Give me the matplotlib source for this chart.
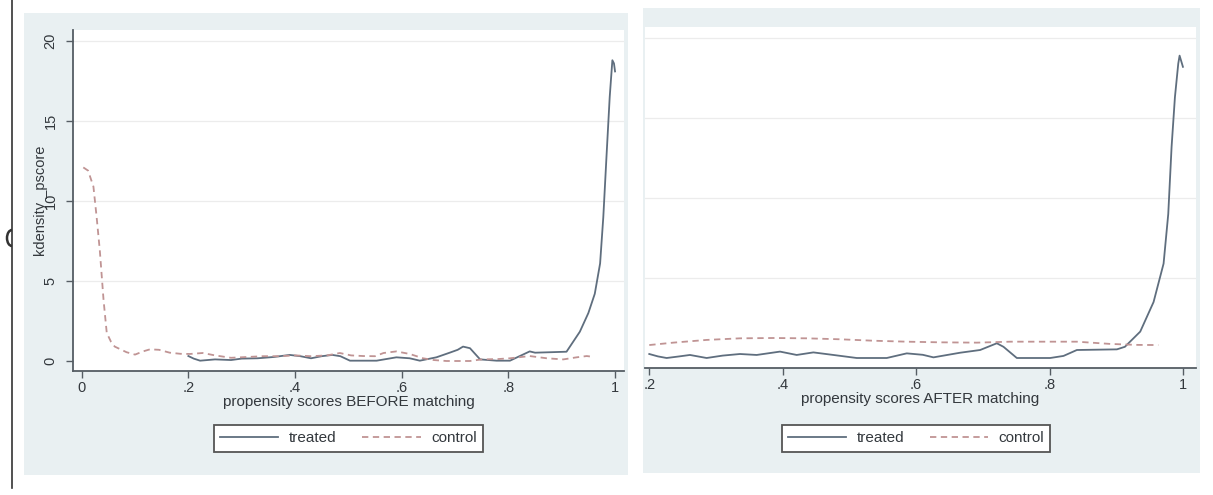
import matplotlib
matplotlib.use("Agg")
import matplotlib.pyplot as plt
from matplotlib.patches import Rectangle, Arc
from matplotlib.lines import Line2D

plt.rcParams['font.family'] = ['Liberation Sans', 'DejaVu Sans']

# ---------------- data ----------------
before_treated_x = [0.2, 0.21, 0.222, 0.25, 0.28, 0.3, 0.33, 0.36, 0.39, 0.41, 0.43, 0.45, 0.47, 0.485,
                    0.503, 0.553, 0.59, 0.615, 0.634, 0.665, 0.69, 0.705, 0.715, 0.728, 0.747, 0.778,
                    0.803, 0.84, 0.85, 0.88, 0.909, 0.934, 0.95, 0.962, 0.972, 0.978, 0.984, 0.99,
                    0.995, 0.998, 1.0]
before_treated_y = [0.31, 0.15, 0.02, 0.1, 0.06, 0.15, 0.17, 0.25, 0.38, 0.3, 0.17, 0.3, 0.38, 0.3,
                    0.02, 0.02, 0.23, 0.17, 0.02, 0.23, 0.52, 0.7, 0.9, 0.8, 0.1, 0.02,
                    0.02, 0.6, 0.52, 0.55, 0.58, 1.83, 3.0, 4.2, 6.1, 9.0, 12.8, 16.5,
                    18.8, 18.6, 18.1]

before_control_x = [0.003, 0.012, 0.022, 0.028, 0.034, 0.041, 0.047, 0.055, 0.062, 0.084, 0.1, 0.115,
                    0.128, 0.145, 0.165, 0.185, 0.203, 0.227, 0.25, 0.28, 0.31, 0.34, 0.37, 0.4, 0.43,
                    0.46, 0.484, 0.505, 0.528, 0.55, 0.566, 0.59, 0.615, 0.64, 0.66, 0.684, 0.728,
                    0.75, 0.78, 0.803, 0.84, 0.872, 0.903, 0.928, 0.947, 0.956]
before_control_y = [12.1, 11.9, 10.9, 9.0, 6.9, 3.8, 1.75, 1.2, 0.9, 0.55, 0.4, 0.6,
                    0.73, 0.7, 0.52, 0.45, 0.44, 0.5, 0.35, 0.2, 0.25, 0.3, 0.3, 0.35, 0.3,
                    0.35, 0.5, 0.35, 0.31, 0.3, 0.5, 0.6, 0.44, 0.17, 0.06, 0.0, 0.0,
                    0.1, 0.12, 0.17, 0.31, 0.17, 0.1, 0.23, 0.31, 0.27]

after_treated_x = [0.2, 0.213, 0.226, 0.245, 0.261, 0.286, 0.31, 0.336, 0.361, 0.396, 0.421, 0.446,
                   0.476, 0.511, 0.556, 0.586, 0.61, 0.626, 0.666, 0.696, 0.721, 0.731, 0.751, 0.801,
                   0.821, 0.841, 0.901, 0.913, 0.936, 0.956, 0.971, 0.978, 0.983, 0.988, 0.993,
                   0.995, 1.0]
after_treated_y = [0.25, 0.1, 0.0, 0.1, 0.19, 0.0, 0.15, 0.25, 0.19, 0.4, 0.19, 0.35,
                   0.19, 0.0, 0.0, 0.29, 0.2, 0.04, 0.33, 0.5, 0.92, 0.7, 0.0, 0.0,
                   0.13, 0.5, 0.54, 0.7, 1.65, 3.5, 5.9, 9.0, 13.2, 16.3, 18.4,
                   18.9, 18.2]

after_control_x = [0.2, 0.236, 0.286, 0.336, 0.386, 0.436, 0.486, 0.536, 0.586, 0.636, 0.691, 0.741,
                   0.791, 0.841, 0.891, 0.93, 0.963]
after_control_y = [0.81, 0.96, 1.13, 1.23, 1.25, 1.23, 1.17, 1.08, 1.02, 0.98, 0.96, 1.02,
                   1.02, 1.02, 0.88, 0.82, 0.81]

series_labels = ["treated", "control"]
before_xticks = [0, 0.2, 0.4, 0.6, 0.8, 1.0]
before_xticklabels = ["0", ".2", ".4", ".6", ".8", "1"]
after_xticks = [0.2, 0.4, 0.6, 0.8, 1.0]
after_xticklabels = [".2", ".4", ".6", ".8", "1"]
yticks = [0, 5, 10, 15, 20]
yticklabels = ["0", "5", "10", "15", "20"]
before_xlabel = "propensity scores BEFORE matching"
after_xlabel = "propensity scores AFTER matching"
ylabel = "kdensity _pscore"

# ---------------- style ----------------
W, H = 1213, 495
PANEL = "#e9f0f2"
TREATED = "#5f6e7e"
CONTROL = "#c09494"
AXIS = "#555d64"
GRID = "#ececec"
TEXT = "#33383d"
FS = 11
TFS = 10.5

fig = plt.figure(figsize=(W / 100, H / 100), dpi=100)
fig.patch.set_facecolor("white")


def px_rect(x0, y0, x1, y1):
    return [x0 / W, 1 - y1 / H, (x1 - x0) / W, (y1 - y0) / H]


# gray graph regions (drawn behind the axes)
for (x0, y0, x1, y1) in [(24, 13, 628, 475), (643, 8, 1200, 473)]:
    l, b, w, h = px_rect(x0, y0, x1, y1)
    fig.patches.append(Rectangle((l, b), w, h, transform=fig.transFigure,
                                 facecolor=PANEL, edgecolor="none", zorder=-10))

# outer left vertical line with small arc
fig.lines.append(Line2D([12 / W, 12 / W], [1, 1 - 488 / H], transform=fig.transFigure,
                        color="#333333", lw=1.2, zorder=-5))
arc = Arc((12 / W, 1 - 238 / H), 10 / W, 16 / H, theta1=90, theta2=270,
          transform=fig.transFigure, color="#333333", lw=1.8, zorder=-5)
fig.patches.append(arc)


def setup(ax, xlim, xticks, xticklabels, xlabel, show_y):
    ax.set_zorder(1)
    ax.set_facecolor("white")
    ax.set_xlim(*xlim)
    ax.set_ylim(-0.625, 20.69)
    ax.set_yticks(yticks)
    for yv in yticks[1:]:
        ax.axhline(yv, color=GRID, lw=0.9, zorder=1)
    ax.set_xticks(xticks)
    ax.set_xticklabels(xticklabels, fontsize=TFS, color=TEXT)
    ax.tick_params(axis="x", length=5, width=1, color=AXIS, pad=2)
    ax.set_xlabel(xlabel, fontsize=FS, color=TEXT, labelpad=0)
    for s in ["top", "right"]:
        ax.spines[s].set_visible(False)
    ax.spines["bottom"].set_color(AXIS)
    ax.spines["bottom"].set_linewidth(1.3)
    if show_y:
        ax.set_yticklabels(yticklabels, fontsize=TFS, color=TEXT, rotation=90, va="center")
        ax.tick_params(axis="y", length=5, width=1, color=AXIS, pad=6)
        ax.spines["left"].set_color(AXIS)
        ax.spines["left"].set_linewidth(1.3)
        ax.set_ylabel(ylabel, fontsize=TFS, color=TEXT, labelpad=-3)
    else:
        ax.spines["left"].set_visible(False)
        ax.tick_params(axis="y", left=False, labelleft=False)


ax1 = fig.add_axes(px_rect(73, 30, 624, 371))
setup(ax1, (-0.0163, 1.0168), before_xticks, before_xticklabels, before_xlabel, True)
ax1.plot(before_treated_x, before_treated_y, color=TREATED, lw=1.3, zorder=3,
         label=series_labels[0])
ax1.plot(before_control_x, before_control_y, color=CONTROL, lw=1.3, dashes=(3.5, 2.5),
         zorder=3, label=series_labels[1])

ax2 = fig.add_axes(px_rect(645, 27, 1196, 368))
setup(ax2, (0.1936, 1.0196), after_xticks, after_xticklabels, after_xlabel, False)
ax2.plot(after_treated_x, after_treated_y, color=TREATED, lw=1.3, zorder=3,
         label=series_labels[0])
ax2.plot(after_control_x, after_control_y, color=CONTROL, lw=1.3, dashes=(3.5, 2.5),
         zorder=3, label=series_labels[1])

for ax, cx in [(ax1, 348.5 / W), (ax2, 916 / W)]:
    leg = ax.legend(loc="center", bbox_to_anchor=(cx, 1 - 438.5 / H),
                    bbox_transform=fig.transFigure, ncol=2, frameon=True,
                    fancybox=False, fontsize=FS, handlelength=3.8,
                    handletextpad=0.7, columnspacing=1.7, borderpad=0.4,
                    labelcolor=TEXT)
    fr = leg.get_frame()
    fr.set_edgecolor("#555555")
    fr.set_linewidth(1.3)
    fr.set_facecolor("white")
    fr.set_alpha(1)

fig.savefig("out.png", dpi=100, facecolor="white")
